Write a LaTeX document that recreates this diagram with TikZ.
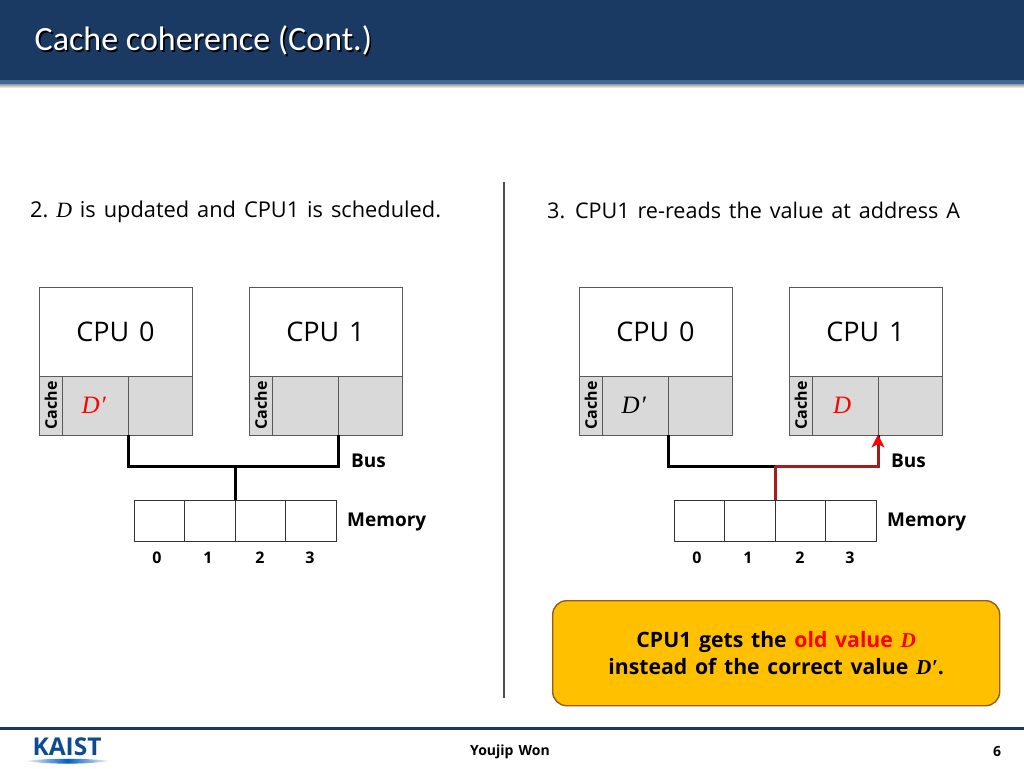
\documentclass[tikz,border=0pt]{standalone}
\usepackage{fontspec}
\setmainfont{Open Sans}[WordSpace=1.4]
\newfontfamily\titlefont{Carlito}
\newfontfamily\mathish{Liberation Serif}
\usetikzlibrary{arrows.meta,positioning}
\definecolor{navy}{HTML}{1A3A64}
\definecolor{navylight}{HTML}{3F6797}
\definecolor{boxline}{HTML}{595959}
\definecolor{cachefill}{HTML}{D9D9D9}
\definecolor{callfill}{HTML}{FFC000}
\definecolor{callline}{HTML}{9A5B14}
\definecolor{busred}{HTML}{A31D1D}
\definecolor{logoblue}{HTML}{0C4A92}
\newcommand{\varD}{{\mathish\itshape D}}
\newcommand{\varDp}{{\mathish\itshape D\kern0.5pt\char"2032}}
\tikzset{
  x=1pt,y=-1pt,
  cell/.style={draw=boxline,line width=1pt,inner sep=0pt,outer sep=0pt,anchor=north west},
  cpubox/.style={cell,fill=white,minimum width=153pt,minimum height=89pt,font=\fontsize{27}{27}\selectfont},
  cachelabel/.style={cell,fill=cachefill,minimum width=23.5pt,minimum height=59pt},
  cachecell/.style={cell,fill=cachefill,minimum height=59pt,font=\fontsize{25}{25}\selectfont},
  memcell/.style={cell,draw=black!80,fill=white,minimum height=41pt,minimum width=50.5pt},
  rot/.style={rotate=90,font=\fontsize{16}{16}\selectfont\bfseries,inner sep=0pt},
  lbl/.style={font=\fontsize{19}{19}\selectfont\bfseries,inner sep=0pt,anchor=west},
  dig/.style={font=\fontsize{16}{16}\selectfont\bfseries,inner sep=0pt},
  busline/.style={line width=3pt,line cap=butt,line join=miter},
  redline/.style={line width=3pt,color=busred,line join=miter,
    -{Stealth[length=13pt,width=13pt,inset=3.5pt,color=red]},shorten >=-0.5pt},
  head/.style={inner sep=0pt,anchor=base west},
}
\newcommand{\panel}[4]{%
\begin{scope}[xshift=#2pt]
  \node[cpubox] (#1cpua) at (39,287) {CPU 0};
  \node[cpubox] (#1cpub) at (249,287) {CPU 1};
  \node[cachelabel] (#1la) at (39,376) {};
  \node[rot] (#1lat) at (#1la.center) {Cache};
  \node[cachecell,minimum width=65.5pt] (#1a0) at (62.5,376) {\kern-3pt\textcolor{#3}{\varDp}};
  \node[cachecell,minimum width=64pt] (#1a1) at (128,376) {};
  \node[cachelabel] (#1lb) at (249,376) {};
  \node[rot] (#1lbt) at (#1lb.center) {Cache};
  \node[cachecell,minimum width=65.5pt] (#1b0) at (272.5,376) {\kern-6pt#4};
  \node[cachecell,minimum width=64pt] (#1b1) at (338,376) {};
  \node[memcell] (#1m0) at (134,500) {};
  \node[memcell] (#1m1) at (184.5,500) {};
  \node[memcell] (#1m2) at (235,500) {};
  \node[memcell] (#1m3) at (285.5,500) {};
  \node[dig] (#1d0) at (157,558) {0};
  \node[dig] (#1d1) at (208,558) {1};
  \node[dig] (#1d2) at (260,558) {2};
  \node[dig] (#1d3) at (310,558) {3};
  \node[lbl] (#1bus) at (351,461) {Bus};
  \node[lbl] (#1mem) at (347,522) {Memory};
  \coordinate (#1j) at (235,466);
  \draw[busline] (#1a0.south east) |- (#1j) -| (#1b0.south east);
  \draw[busline] (#1j) -- (#1m1.north east);
\end{scope}}
\begin{document}
\begin{tikzpicture}
\useasboundingbox (0,0) rectangle (1024,768);
\fill[white] (0,0) rectangle (1024,768);
% header
\fill[navy] (0,0) rectangle (1024,80);
\fill[navylight] (0,80) rectangle (1024,84);
\shade[top color=black!40,bottom color=white] (0,84) rectangle (1024,88);
\node[font=\titlefont\fontsize{34}{34}\selectfont,text=white,inner sep=0pt,anchor=base west] (title) at (34.5,51) {\rlap{\kern1.6pt\raisebox{-1.6pt}{\textcolor{black}{Cache coherence (Cont.)}}}Cache coherence (Cont.)};
% headings
\node[head,font=\fontsize{21.8}{22}\selectfont] (h2) at (30,217) {2. \kern-2pt\varD\ is updated and CPU1 is scheduled.};
\node[head,font=\fontsize{21.6}{22}\selectfont] (h3) at (547,218) {3. CPU1 re-reads the value at address A};
% divider
\coordinate (divt) at (504,182);
\coordinate (divb) at (504,698);
\draw[line width=2pt,color=black!70] (divt) -- (divb);
% panels
\panel{l}{0}{red}{}
\panel{r}{540}{black}{\textcolor{red}{\varD}}
\draw[redline] (rj) -| (rb0.south east);
\draw[line width=3pt,color=busred] (rj) -- (rm1.north east);
% callout
\node[draw=callline,line width=1.4pt,fill=callfill,rounded corners=14pt,minimum width=447pt,minimum height=105pt,inner sep=0pt,anchor=north west,align=center,font=\fontsize{21.2}{27}\selectfont\bfseries] (call) at (552,600)
  {CPU1 gets the \textcolor{red}{old value \varD}\\instead of the correct value \varDp.};
% footer
\coordinate (fl) at (0,728);
\coordinate (fr) at (1024,728);
\draw[line width=3pt,color=navy] (fl) -- (fr);
\node[font=\fontsize{14}{14}\selectfont\bfseries,inner sep=0pt] (auth) at (510,752) {Youjip Won};
\node[font=\fontsize{14}{14}\selectfont\bfseries,inner sep=0pt] (page) at (997,752) {6};
% logo
\node[font=\fontsize{24.5}{25}\selectfont\bfseries,text=logoblue,inner sep=0pt,anchor=center] (logo) at (67,747) {KAIST};
\shade[left color=white,right color=white,middle color=blue!55!cyan!80!black]
  (24,761) .. controls (50,758) and (85,758) .. (111,761) .. controls (85,764.5) and (50,764.5) .. (24,761) -- cycle;
\end{tikzpicture}
\end{document}
